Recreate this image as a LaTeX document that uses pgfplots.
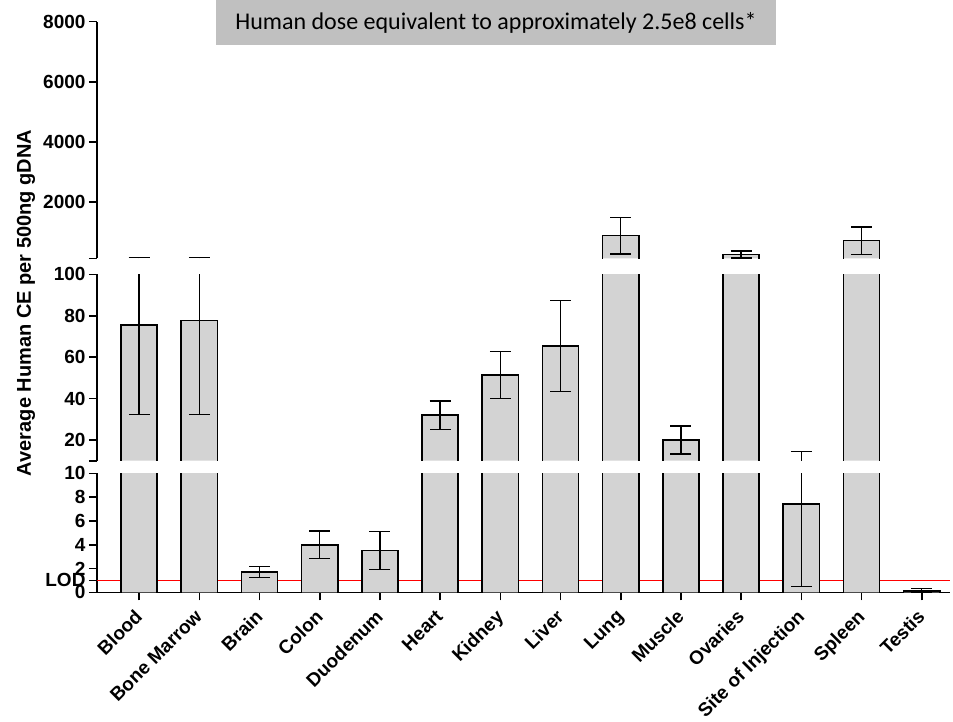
\documentclass[border=0pt]{standalone}
\usepackage{pgfplots}
\pgfplotsset{compat=1.18}
\usepackage{pgfplotstable}
\usepackage{fontspec}
\setmainfont{Liberation Sans}
\newfontfamily\calibri{Carlito}
\definecolor{barfill}{RGB}{211,211,211}
\definecolor{boxgray}{RGB}{192,192,192}

\pgfplotstableread{
x y e
0 75.5 43.3
1 77.7 45.4
2 1.7 0.44
3 4.0 1.15
4 3.5 1.6
5 32.0 6.8
6 51.3 11.4
7 65.3 21.9
8 880 610
9 20.0 6.7
10 250 115
11 7.4 6.9
12 715 455
13 0.12 0.18
}\data

\pgfplotsset{
  seg/.style={
    scale only axis, width=853pt,
    xmin=-0.7, xmax=13.47,
    axis y line*=left,
    axis line style={line width=1.6pt, black},
    tick style={line width=1.6pt, black},
    major tick length=8pt,
    tick align=outside,
    yticklabel style={font=\fontsize{19}{19}\selectfont\bfseries},
    /pgf/number format/assume math mode=true,
    /pgf/number format/1000 sep={},
    scaled y ticks=false,
    anchor=south west,
  },
  barfillplot/.style={ybar, bar width=36.1pt, bar shift=0pt, fill=barfill, draw=none},
  sideplot/.style={ycomb, black, line width=1.6pt, line cap=rect},
  topplot/.style={only marks, mark=-, mark size=18.05pt,
    mark options={line width=1.6pt, line cap=rect, black}},
  errplot/.style={draw=none,
    error bars/.cd, y dir=both, y explicit,
    error bar style={draw=black, line width=1.3pt, solid},
    error mark options={draw=black, rotate=90, mark size=10.5pt, line width=1.3pt}},
}

\begin{document}
\begin{tikzpicture}
\useasboundingbox (0,0) rectangle (953pt,-722pt);

% title box
\node[fill=boxgray, minimum width=560pt, minimum height=45pt, anchor=north, inner sep=0pt,
      font=\calibri\fontsize{24}{24}\selectfont] at (496pt,0pt)
      {Human dose equivalent to approximately 2.5e8 cells*};

% top segment
\begin{axis}[seg, at={(97pt,-258.3pt)}, height=236.6pt,
  ymin=125, ymax=8000, axis x line=none,
  ytick={2000,4000,6000,8000},
  extra y ticks={125}, extra y tick labels={}]
  \addplot[barfillplot, restrict y to domain={125:100000}] table[x=x, y=y] {\data};
  \addplot[sideplot, xshift=-18.05pt, restrict y to domain={125:100000}] table[x=x, y=y] {\data};
  \addplot[sideplot, xshift=18.05pt, restrict y to domain={125:100000}] table[x=x, y=y] {\data};
  \addplot[topplot, restrict y to domain={125:8000}] table[x=x, y=y] {\data};
  \addplot[restrict y to domain={100:100000}, errplot] table[x=x, y=y, y error=e] {\data};
  \addplot[draw=none, error bars/.cd, y dir=plus, y explicit,
    error bar style={draw=black, line width=1.3pt, solid},
    error mark options={draw=black, rotate=90, mark size=10.5pt, line width=1.3pt}]
    coordinates {(0,118.8) +- (0,40) (1,123.1) +- (0,40)};
\end{axis}

% middle segment
\begin{axis}[seg, at={(97pt,-460.7pt)}, height=186.4pt,
  ymin=10, ymax=100, axis x line=none,
  ytick={20,40,60,80,100},
  extra y ticks={10}, extra y tick labels={}]
  \addplot[barfillplot, restrict y to domain={10:100000}] table[x=x, y=y] {\data};
  \addplot[sideplot, xshift=-18.05pt, restrict y to domain={10:100000}] table[x=x, y=y] {\data};
  \addplot[sideplot, xshift=18.05pt, restrict y to domain={10:100000}] table[x=x, y=y] {\data};
  \addplot[topplot, restrict y to domain={10:100}] table[x=x, y=y] {\data};
  \addplot[restrict y to domain={5:100}, errplot] table[x=x, y=y, y error=e] {\data};
\end{axis}

% bottom segment
\begin{axis}[seg, at={(97pt,-592.3pt)}, height=119pt,
  ymin=0, ymax=10,
  axis x line*=bottom,
  ytick={0,2,4,6,8,10},
  extra y ticks={1}, extra y tick labels={LOD},
  xtick={0,1,2,3,4,5,6,7,8,9,10,11,12,13},
  xticklabels={Blood,Bone Marrow,Brain,Colon,Duodenum,Heart,Kidney,Liver,Lung,Muscle,Ovaries,Site of Injection,Spleen,Testis},
  xticklabel style={xshift=-5.5pt, yshift=-5pt, rotate=45, anchor=north east, font=\fontsize{19}{19}\selectfont\bfseries, inner sep=2pt}]
  \addplot[red, line width=1pt] coordinates {(-0.7,1) (13.47,1)};
  \addplot[barfillplot, restrict y to domain*={-20:150}] table[x=x, y=y] {\data};
  \addplot[sideplot, xshift=-18.05pt, restrict y to domain*={-20:150}] table[x=x, y=y] {\data};
  \addplot[sideplot, xshift=18.05pt, restrict y to domain*={-20:150}] table[x=x, y=y] {\data};
  \addplot[topplot, restrict y to domain={0:10}] table[x=x, y=y] {\data};
  \addplot[restrict y to domain={-20:20}, errplot] table[x=x, y=y, y error=e] {\data};
\end{axis}

\node[rotate=90, font=\fontsize{20}{20}\selectfont\bfseries] at (26pt,-303pt)
  {Average Human CE per 500ng gDNA};
\end{tikzpicture}
\end{document}
